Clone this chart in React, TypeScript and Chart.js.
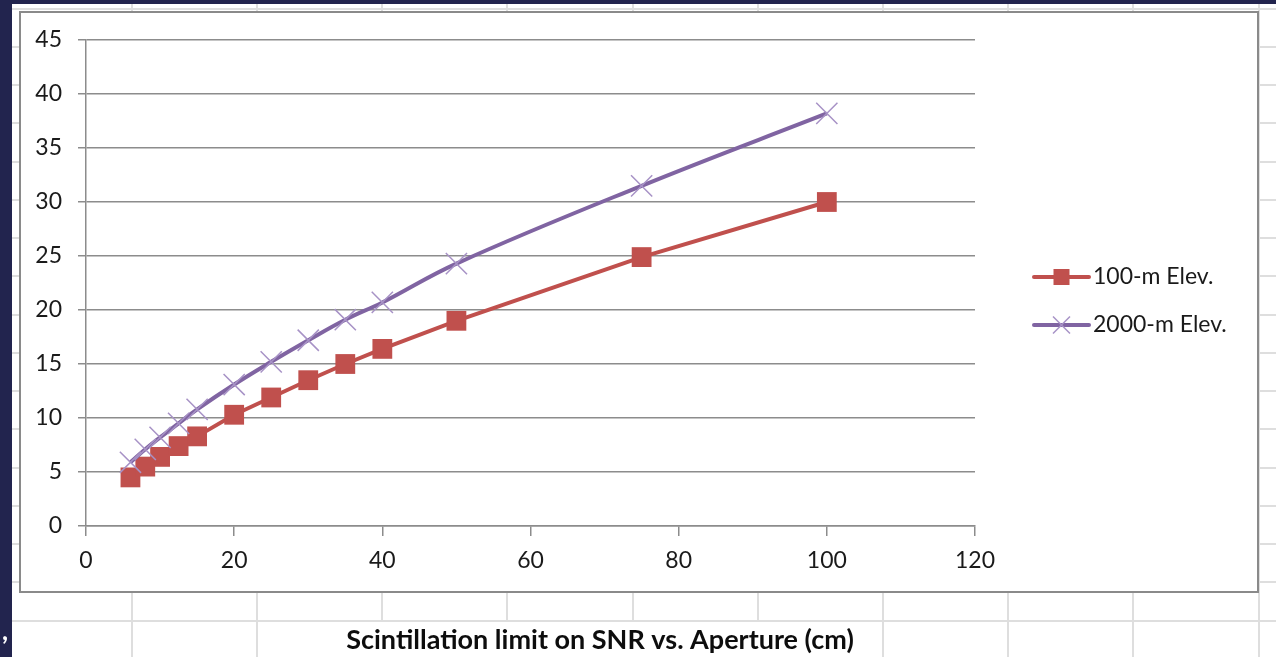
import React, { useEffect, useRef } from "react";
import { Chart, registerables } from "chart.js";

Chart.register(...registerables);

// ---- data ----
const apertures = [6, 8, 10, 12.5, 15, 20, 25, 30, 35, 40, 50, 75, 100];
const snr100m = [4.5, 5.5, 6.4, 7.4, 8.3, 10.3, 11.9, 13.5, 15.0, 16.4, 19.0, 24.9, 30.0];
const snr2000m = [5.9, 7.1, 8.2, 9.5, 10.8, 13.1, 15.2, 17.2, 19.1, 20.7, 24.3, 31.5, 38.2];
const seriesNames = ["100-m Elev.", "2000-m Elev."];
const titleText = "Scintillation limit on SNR vs. Aperture (cm)";
const xRange = [0, 120];
const xStep = 20;
const yRange = [0, 45];
const yStep = 5;

const RED = "#C0504D";
const PURPLE = "#8064A2";
const PURPLE_LIGHT = "#A792C6";
const AXIS_GRAY = "#8c8c8c";
const TEXT = "#1a1a1a";
const FONT = "Lato";

const backgroundPlugin = {
  id: "excelBackground",
  beforeDraw(chart: any) {
    const ctx = chart.ctx as CanvasRenderingContext2D;
    const W = chart.width;
    const H = chart.height;
    ctx.save();
    ctx.fillStyle = "#ffffff";
    ctx.fillRect(0, 0, W, H);

    // spreadsheet gridlines
    ctx.strokeStyle = "#dedede";
    ctx.lineWidth = 2;
    const rowY: number[] = [];
    for (let y = 8.6; y < H; y += 38.25) rowY.push(y);
    const colX: number[] = [];
    for (let x = 131.7; x < W; x += 125.2) colX.push(x);
    rowY.forEach((y) => {
      ctx.beginPath();
      ctx.moveTo(0, Math.round(y));
      ctx.lineTo(W, Math.round(y));
      ctx.stroke();
    });
    colX.forEach((x) => {
      ctx.beginPath();
      ctx.moveTo(Math.round(x), 0);
      const hiddenInTitleRow = x > 300 && x < 800;
      ctx.lineTo(Math.round(x), hiddenInTitleRow ? 621 : H);
      ctx.stroke();
    });

    // navy window frame
    ctx.fillStyle = "#22244e";
    ctx.fillRect(0, 0, 12, H);
    ctx.fillRect(0, 0, W, 4);
    ctx.fillStyle = "#ffffff";
    ctx.font = `bold 26px ${FONT}`;
    ctx.textBaseline = "alphabetic";
    ctx.textAlign = "left";
    ctx.fillText(",", 2, 640);

    // chart frame
    ctx.fillStyle = "#ffffff";
    ctx.fillRect(20, 12, 1238, 580);
    ctx.strokeStyle = "#8a8a8a";
    ctx.lineWidth = 2;
    ctx.strokeRect(20, 12, 1238, 580);

    // title in the cell below the chart
    ctx.fillStyle = "#0d0d0d";
    ctx.font = `bold 27px ${FONT}`;
    ctx.textAlign = "center";
    ctx.textBaseline = "middle";
    ctx.fillText(titleText, 600, 640);
    ctx.restore();
  },
};

const legendPlugin = {
  id: "excelLegend",
  afterDraw(chart: any) {
    const ctx = chart.ctx as CanvasRenderingContext2D;
    const rows = [277, 325];
    ctx.save();
    chart.data.datasets.forEach((ds: any, i: number) => {
      const y = rows[i];
      const x0 = 1034;
      const x1 = 1089;
      const cx = (x0 + x1) / 2;
      ctx.strokeStyle = ds.borderColor;
      ctx.lineWidth = 4;
      ctx.lineCap = "round";
      ctx.beginPath();
      ctx.moveTo(x0, y);
      ctx.lineTo(x1, y);
      ctx.stroke();
      if (ds.pointStyle === "rect") {
        ctx.fillStyle = ds.pointBackgroundColor;
        ctx.fillRect(cx - 8, y - 8, 16, 16);
      } else {
        ctx.strokeStyle = ds.pointBorderColor;
        ctx.lineWidth = 1.5;
        ctx.lineCap = "butt";
        ctx.beginPath();
        ctx.moveTo(cx - 8.5, y - 8.5);
        ctx.lineTo(cx + 8.5, y + 8.5);
        ctx.moveTo(cx + 8.5, y - 8.5);
        ctx.lineTo(cx - 8.5, y + 8.5);
        ctx.stroke();
      }
      ctx.fillStyle = TEXT;
      ctx.font = `23px ${FONT}`;
      ctx.textAlign = "left";
      ctx.textBaseline = "middle";
      ctx.fillText(ds.label, 1093, y);
    });
    ctx.restore();
  },
};

export default function App() {
  const canvasRef = useRef<HTMLCanvasElement | null>(null);

  useEffect(() => {
    const canvas = canvasRef.current;
    if (!canvas) return;
    const chart = new Chart(canvas, {
      type: "line",
      data: {
        datasets: [
          {
            label: seriesNames[0],
            data: apertures.map((x, i) => ({ x, y: snr100m[i] })),
            borderColor: RED,
            backgroundColor: RED,
            borderWidth: 4,
            pointStyle: "rect",
            pointRadius: 14,
            pointBackgroundColor: RED,
            pointBorderColor: RED,
            pointBorderWidth: 0,
            tension: 0,
            order: 1,
          },
          {
            label: seriesNames[1],
            data: apertures.map((x, i) => ({ x, y: snr2000m[i] })),
            borderColor: PURPLE,
            backgroundColor: PURPLE,
            borderWidth: 4,
            pointStyle: "crossRot",
            pointRadius: 15,
            pointBackgroundColor: PURPLE_LIGHT,
            pointBorderColor: PURPLE_LIGHT,
            pointBorderWidth: 1.5,
            tension: 0.4,
            order: 0,
          },
        ] as any,
      },
      options: {
        animation: false,
        responsive: false,
        events: [],
        layout: { padding: { left: 20, top: 40, right: 301, bottom: 0 } },
        plugins: {
          legend: { display: false },
          tooltip: { enabled: false },
          title: { display: false },
        },
        scales: {
          x: {
            type: "linear",
            min: xRange[0],
            max: xRange[1],
            ticks: {
              stepSize: xStep,
              padding: 11,
              color: TEXT,
              font: { family: FONT, size: 23 },
            },
            grid: {
              drawOnChartArea: false,
              drawTicks: true,
              tickLength: 10,
              color: AXIS_GRAY,
              lineWidth: 1.5,
            },
            border: { display: true, color: AXIS_GRAY, width: 1.5 },
            afterFit: (s: any) => {
              s.height = 131;
            },
          },
          y: {
            type: "linear",
            min: yRange[0],
            max: yRange[1],
            ticks: {
              stepSize: yStep,
              padding: 16,
              color: TEXT,
              font: { family: FONT, size: 23 },
            },
            grid: {
              drawTicks: true,
              tickLength: 8,
              color: AXIS_GRAY,
              lineWidth: 1.5,
            },
            border: { display: true, color: AXIS_GRAY, width: 1.5 },
            afterFit: (s: any) => {
              s.width = 66;
            },
          },
        },
      } as any,
      plugins: [backgroundPlugin, legendPlugin],
    });
    return () => chart.destroy();
  }, []);

  return (
    <div style={{ position: "fixed", left: 0, top: 0, width: 1276, height: 657 }}>
      <canvas ref={canvasRef} width={1276} height={657} style={{ display: "block" }} />
    </div>
  );
}
